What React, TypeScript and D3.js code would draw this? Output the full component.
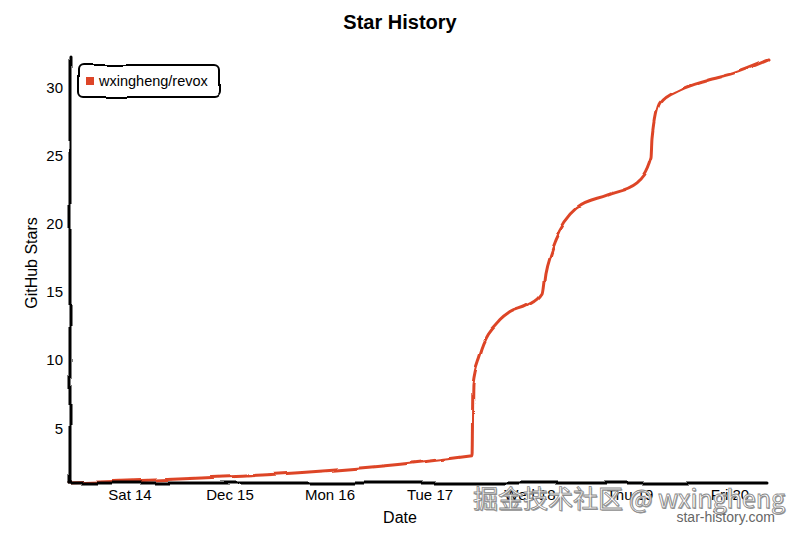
import React from 'react';
import * as d3 from 'd3';

const repoName = 'wxingheng/revox';
const dates = [
  '2019-12-13T09:36',
  '2019-12-17T10:05',
  '2019-12-17T10:19',
  '2019-12-17T12:00',
  '2019-12-17T16:48',
  '2019-12-17T19:12',
  '2019-12-17T23:17',
  '2019-12-18T02:53',
  '2019-12-18T03:36',
  '2019-12-18T04:48',
  '2019-12-18T06:00',
  '2019-12-18T11:17',
  '2019-12-18T18:29',
  '2019-12-19T01:41',
  '2019-12-19T05:17',
  '2019-12-19T05:31',
  '2019-12-19T07:12',
  '2019-12-19T12:00',
  '2019-12-19T18:29',
  '2019-12-20T00:43',
  '2019-12-20T09:07',
];
const stars = [1, 3, 8.3, 10.4, 12.9, 13.5, 14.0, 14.9, 16.4, 17.8, 18.8, 21.2, 22.1, 23.0, 24.9, 26.3, 28.8, 29.8, 30.5, 31.0, 32];
const yDomain = [1, 32];
const yTickValues = [5, 10, 15, 20, 25, 30];

const W = 800;
const H = 533;
const FONT = '"Liberation Sans", Arial, Helvetica, sans-serif';
const CJK = '"Noto Sans CJK SC", "Liberation Sans", sans-serif';

export default function App() {
  const left = 70, right = 768, top = 60, bottom = 483;
  const data = dates.map((d, i) => ({ t: new Date(d), v: stars[i] }));
  const x = d3.scaleTime()
    .domain(d3.extent(data, (d) => d.t) as [Date, Date])
    .range([left, right]);
  const y = d3.scaleLinear().domain(yDomain).range([bottom, top]);
  const line = d3.line<{ t: Date; v: number }>()
    .x((d) => x(d.t))
    .y((d) => y(d.v))
    .curve(d3.curveMonotoneX);
  const xTicks = x.ticks(7);
  const fmt = x.tickFormat();
  const wm = '掘金技术社区 @ wxingheng';

  return (
    <svg width={W} height={H} style={{ position: 'absolute', left: 0, top: 0, background: '#fff' }} fontFamily={FONT}>
      <defs>
        <filter id="xkcdify" filterUnits="userSpaceOnUse" x={0} y={0} width={W} height={H}>
          <feTurbulence type="fractalNoise" baseFrequency="0.03" result="noise" />
          <feDisplacementMap scale="5" xChannelSelector="R" yChannelSelector="G" in="SourceGraphic" in2="noise" />
        </filter>
      </defs>
      <rect x={0} y={0} width={W} height={H} fill="#fff" />
      <text x={400} y={29} textAnchor="middle" fontSize={20} fontWeight="bold" fill="#000">Star History</text>

      {/* line */}
      <path d={line(data) || ''} fill="none" stroke="#dd4528" strokeWidth={3} strokeLinecap="round" strokeLinejoin="round" filter="url(#xkcdify)" />

      {/* axes */}
      <g filter="url(#xkcdify)">
        <line x1={left} y1={57} x2={left} y2={bottom} stroke="#000" strokeWidth={3} strokeLinecap="round" />
        <line x1={left} y1={bottom} x2={right} y2={bottom} stroke="#000" strokeWidth={3} strokeLinecap="round" />
      </g>

      {yTickValues.map((v) => (
        <text key={v} x={63} y={y(v)} dy="0.35em" textAnchor="end" fontSize={15} fill="#000">{v}</text>
      ))}
      {xTicks.map((t) => (
        <text key={+t} x={x(t)} y={500} textAnchor="middle" fontSize={15} fill="#000">{fmt(t)}</text>
      ))}

      <text x={400} y={523} textAnchor="middle" fontSize={16} fill="#000">Date</text>
      <text transform={`translate(37,263) rotate(-90)`} textAnchor="middle" fontSize={16} fill="#000">GitHub Stars</text>

      {/* legend */}
      <rect x={78} y={65} width={141} height={32} rx={5} fill="#fff" stroke="#000" strokeWidth={2} filter="url(#xkcdify)" />
      <rect x={86} y={77} width={8} height={8} fill="#dd4528" />
      <text x={99} y={85.5} fontSize={14.5} fill="#000">{repoName}</text>

      {/* watermark */}
      <text x={786} y={509} textAnchor="end" fontSize={25} fill="#999" fontFamily={CJK}>{wm}</text>
      <text x={785} y={508} textAnchor="end" fontSize={25} fill="#fff" stroke="#888" strokeWidth={0.8} fontFamily={CJK}>{wm}</text>
      <text x={775} y={522} textAnchor="end" fontSize={14} fill="#666">star-history.com</text>
    </svg>
  );
}
